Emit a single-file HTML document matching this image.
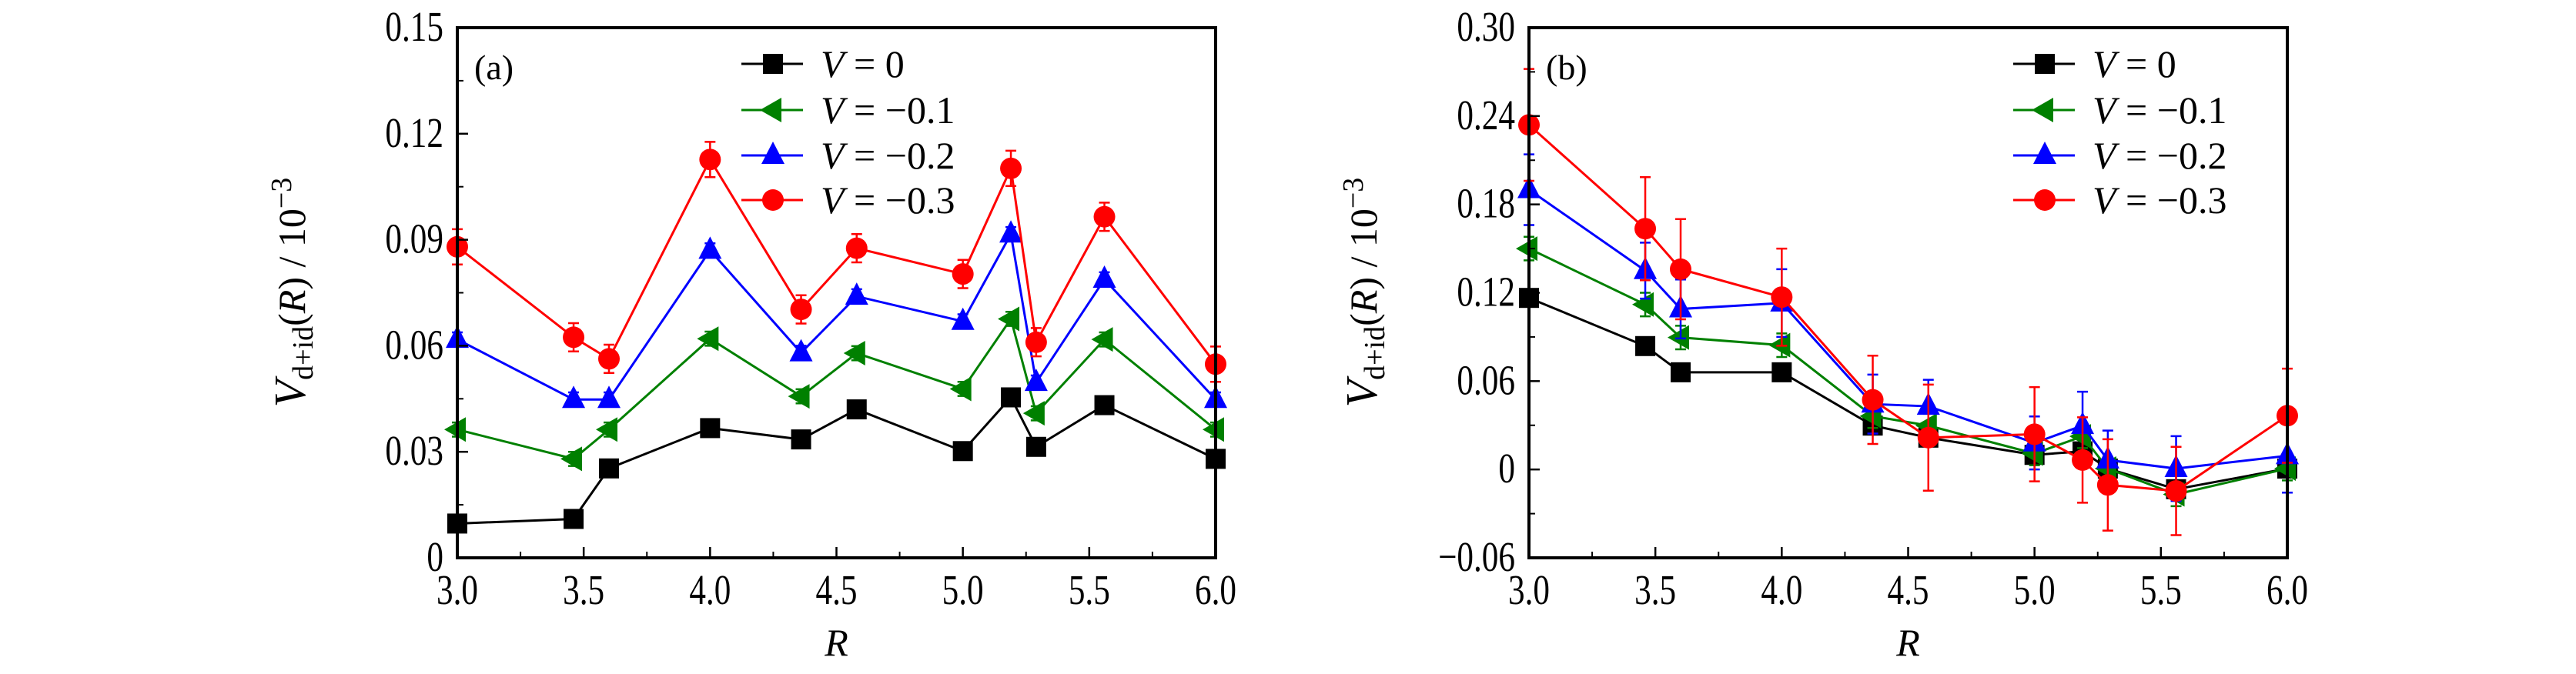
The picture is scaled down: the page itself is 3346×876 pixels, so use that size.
<!DOCTYPE html>
<html><head><meta charset="utf-8"><style>
html,body{margin:0;padding:0;background:#fff;}
svg{display:block;}
text{font-family:"Liberation Serif",serif;fill:#000;}
</style></head><body>
<svg id="chart" width="3346" height="876" viewBox="0 0 3346 876" xmlns="http://www.w3.org/2000/svg"></svg>
<script>
const xValues = [3.0, 3.46, 3.6, 4.0, 4.36, 4.58, 5.0, 5.19, 5.29, 5.56, 6.0];
const xTicks = [3.0, 3.5, 4.0, 4.5, 5.0, 5.5, 6.0];
const xTickLabels = ["3.0","3.5","4.0","4.5","5.0","5.5","6.0"];
const seriesNames = ["V = 0","V = \u22120.1","V = \u22120.2","V = \u22120.3"];
const legendNums = ["0","\u22120.1","\u22120.2","\u22120.3"];
// panel (a)
const aV0 = [0.0097,0.011,0.0253,0.0367,0.0335,0.042,0.0302,0.0454,0.0314,0.0432,0.028];
const aV1 = [0.0363,0.028,0.0363,0.062,0.0457,0.0579,0.0478,0.0676,0.0409,0.0618,0.0363];
const aV2 = [0.0618,0.0448,0.0448,0.087,0.058,0.074,0.0669,0.0916,0.0496,0.0788,0.0448];
const aV3 = [0.088,0.0624,0.0563,0.1127,0.0703,0.0876,0.0803,0.1102,0.061,0.0965,0.0548];
const aE0 = [0.002,0.002,0.002,0.002,0.002,0.002,0.002,0.002,0.002,0.002,0.002];
const aE1 = [0.002,0.002,0.002,0.002,0.002,0.002,0.002,0.002,0.002,0.002,0.002];
const aE2 = [0.002,0.002,0.002,0.002,0.002,0.002,0.002,0.002,0.002,0.002,0.002];
const aE3 = [0.005,0.004,0.004,0.005,0.004,0.004,0.004,0.005,0.004,0.004,0.005];
const aTicks = [0,0.03,0.06,0.09,0.12,0.15];
const aTickLabels = ["0","0.03","0.06","0.09","0.12","0.15"];
// panel (b)
const bV0 = [0.1165,0.0838,0.066,0.066,0.0298,0.0216,0.0099,0.0123,0.0006,-0.0134,0.0006];
const bV1 = [0.150,0.112,0.0896,0.0844,0.0362,0.0298,0.0108,0.0225,0.0006,-0.0169,0.0006];
const bV2 = [0.190,0.135,0.109,0.113,0.0444,0.0429,0.018,0.0298,0.0064,0.0006,0.0093];
const bV3 = [0.234,0.1635,0.136,0.117,0.0473,0.0216,0.0239,0.0064,-0.0105,-0.0146,0.0365];
const bE0 = [0.005,0.005,0.005,0.005,0.005,0.005,0.005,0.005,0.005,0.005,0.005];
const bE1 = [0.008,0.008,0.008,0.008,0.008,0.008,0.008,0.008,0.008,0.008,0.008];
const bE2 = [0.024,0.019,0.02,0.023,0.02,0.018,0.018,0.023,0.02,0.022,0.025];
const bE3 = [0.038,0.035,0.034,0.033,0.03,0.036,0.032,0.029,0.031,0.03,0.032];
const bTicks = [-0.06,0,0.06,0.12,0.18,0.24,0.30];
const bTickLabels = ["\u22120.06","0","0.06","0.12","0.18","0.24","0.30"];

const NS="http://www.w3.org/2000/svg";
const svg=document.getElementById('chart');
const colors=["#000000","#008000","#0000ff","#ff0000"];
const markers=["square","left","up","circle"];
function mk(tag,attrs,parent){const e=document.createElementNS(NS,tag);for(const k in attrs)e.setAttribute(k,attrs[k]);(parent||svg).appendChild(e);return e;}

function marker(g,type,cx,cy,color){
  let e;
  if(type==="square"){e=mk('rect',{x:cx-13,y:cy-13,width:26,height:26,fill:color},g);}
  else if(type==="circle"){e=mk('circle',{cx:cx,cy:cy,r:14,fill:color},g);}
  else if(type==="up"){e=mk('polygon',{points:`${cx},${cy-18} ${cx-15},${cy+11} ${cx+15},${cy+11}`,fill:color},g);}
  else {e=mk('polygon',{points:`${cx-17},${cy} ${cx+11},${cy-16} ${cx+11},${cy+16}`,fill:color},g);}
  
  
}

function panel(opt){
  const L=opt.left,R=opt.right,T=36,B=725;
  const xs=v=>L+(v-3)/3*(R-L);
  const ys=v=>B-(v-opt.ymin)/(opt.ymax-opt.ymin)*(B-T);
  const g=mk('g',{});
  
  
  opt.series.forEach((vals,si)=>{
    const sg=mk('g',{},g);
    
    
    const errs=opt.errs[si];
    const pts=xValues.map((x,i)=>xs(x)+','+ys(vals[i])).join(' ');
    const pl=mk('polyline',{points:pts,fill:'none',stroke:colors[si],'stroke-width':3},sg);
    
    
    xValues.forEach((x,i)=>{
      const cx=xs(x),y1=ys(vals[i]+errs[i]),y2=ys(vals[i]-errs[i]);
      const eb=mk('path',{d:`M${cx},${y1}V${y2}M${cx-7},${y1}H${cx+7}M${cx-7},${y2}H${cx+7}`,stroke:colors[si],'stroke-width':2.5,fill:'none'},sg);
      
      
    });
    xValues.forEach((x,i)=>marker(sg,markers[si],xs(x),ys(vals[i]),colors[si]));
  });
  const fr=mk('rect',{x:L,y:T,width:R-L,height:B-T,fill:'none',stroke:'#000','stroke-width':4},g);
  
  
  xTicks.forEach((t,i)=>{
    const x=xs(t);
    mk('line',{x1:x,y1:B,x2:x,y2:B-14,stroke:'#000','stroke-width':2.5},g);
    if(i<xTicks.length-1){const xm=xs(t+0.25);mk('line',{x1:xm,y1:B,x2:xm,y2:B-8,stroke:'#000','stroke-width':2},g);}
    const tx=mk('text',{x:x,y:785,'font-size':48,'text-anchor':'middle',transform:`translate(${x},785) scale(0.9,1.15) translate(${-x},-785)`},g);
    tx.textContent=xTickLabels[i];
    
    
  });
  opt.yticks.forEach((t,i)=>{
    const y=ys(t);
    mk('line',{x1:L,y1:y,x2:L+14,y2:y,stroke:'#000','stroke-width':2.5},g);
    if(i<opt.yticks.length-1){const ym=ys(t+(opt.yticks[1]-opt.yticks[0])/2);mk('line',{x1:L,y1:ym,x2:L+8,y2:ym,stroke:'#000','stroke-width':2},g);}
    const tx=mk('text',{x:L-18,y:y+17,'font-size':48,'text-anchor':'end',transform:`translate(${L-18},${y+17}) scale(0.9,1.15) translate(${-(L-18)},${-(y+17)})`},g);
    tx.textContent=opt.ylabels[i];
    
    
  });
  const xt=mk('text',{x:(L+R)/2,y:852,'font-size':50,'font-style':'italic','text-anchor':'middle'},g);
  xt.textContent='R';
  
  
  const yt=mk('text',{x:0,y:0,'font-size':50,'text-anchor':'middle',transform:`translate(${L-198},380) rotate(-90)`},g);
  
  
  yt.innerHTML='<tspan font-style="italic" font-size="58">V</tspan><tspan font-size="38" dy="10">d+id</tspan><tspan dy="-10">(</tspan><tspan font-style="italic">R</tspan><tspan>) / 10</tspan><tspan font-size="38" dy="-18">\u22123</tspan>';
  const pl=mk('text',{x:L+22,y:103,'font-size':46},g);
  pl.textContent=opt.label;
  
  
  const lg=mk('g',{},g);
  
  
  const rows=[83,143,202,260];
  seriesNames.forEach((n,si)=>{
    const eg=mk('g',{},lg);
    
    
    mk('line',{x1:opt.legX,y1:rows[si],x2:opt.legX+80,y2:rows[si],stroke:colors[si],'stroke-width':3},eg);
    marker(eg,markers[si],opt.legX+41,rows[si],colors[si]);
    const t=mk('text',{x:opt.legX+103,y:rows[si]+17,'font-size':50},eg);
    t.innerHTML='<tspan font-style="italic">V</tspan> =  '+legendNums[si];
  });
}

panel({name:'panel-a',left:594,right:1579,ymin:0,ymax:0.15,yticks:aTicks,ylabels:aTickLabels,
  series:[aV0,aV1,aV2,aV3],errs:[aE0,aE1,aE2,aE3],label:'(a)',legX:963});
panel({name:'panel-b',left:1986,right:2971,ymin:-0.06,ymax:0.30,yticks:bTicks,ylabels:bTickLabels,
  series:[bV0,bV1,bV2,bV3],errs:[bE0,bE1,bE2,bE3],label:'(b)',legX:2615});
</script>
</body></html>
